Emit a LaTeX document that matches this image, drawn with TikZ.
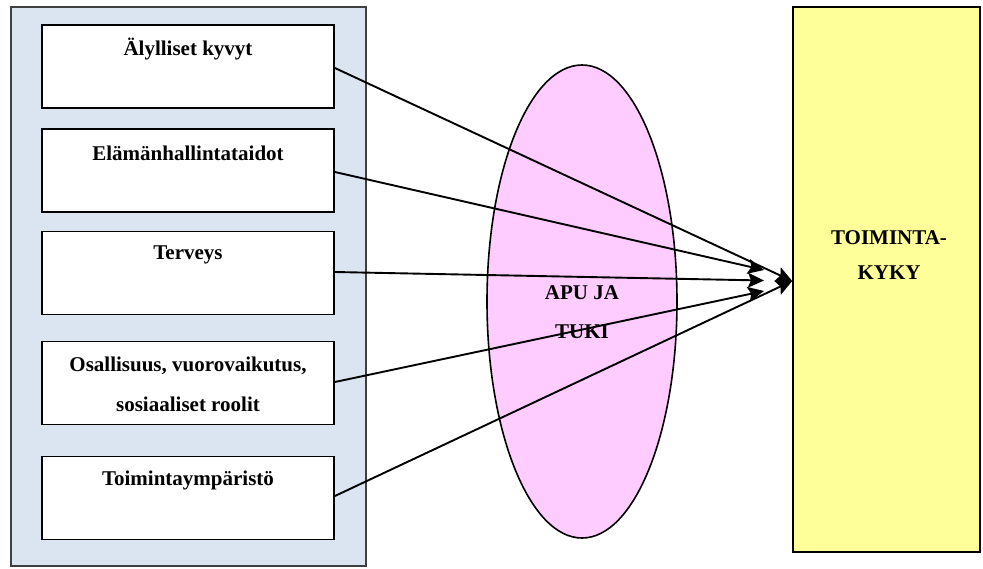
\documentclass[tikz,border=0pt]{standalone}
\usepackage{fontspec}
\setmainfont{Liberation Serif}
\usetikzlibrary{arrows.meta,shapes.geometric}
\definecolor{panelblue}{RGB}{219,229,241}
\definecolor{helppink}{RGB}{255,204,255}
\definecolor{abilityyellow}{RGB}{255,255,153}
\tikzset{
  every node/.style={font=\bfseries\fontsize{21}{40}\selectfont, inner sep=0pt},
  factorbox/.style={draw=black, line width=1.8pt, fill=white, minimum width=292pt, minimum height=83pt},
  link/.style={line width=1.9pt, -{Stealth[length=16pt,width=15pt,inset=3pt]}}
}
\begin{document}
\begin{tikzpicture}[x=1pt,y=-1pt]
\useasboundingbox (0,0) rectangle (983,568);
% factor panel and its five boxes
\draw[fill=panelblue, draw=black!75, line width=1.6pt] (11,7) rectangle (366,566);
\node[factorbox] (b1) at (188,66.5) {};
\node[factorbox] (b2) at (188,170.5) {};
\node[factorbox] (b3) at (188,273) {};
\node[factorbox] (b4) at (188,383) {};
\node[factorbox] (b5) at (188,498) {};
\node (t1) at (188,49) {Älylliset kyvyt};
\node (t2) at (188,153) {Elämänhallintataidot};
\node (t3) at (188,255) {Terveys};
\node[align=center] (t4) at (188,384) {Osallisuus, vuorovaikutus,\\ sosiaaliset roolit};
\node (t5) at (188,480) {Toimintaympäristö};
% support ellipse
\node[draw=black, line width=1.6pt, fill=helppink, ellipse, minimum width=190pt, minimum height=473pt] (help) at (582,301.5) {};
\node[align=center, font=\bfseries\fontsize{21}{39}\selectfont] (helptext) at (582,312.5) {APU JA\\ TUKI};
% functional ability box
\node[draw=black, line width=1.6pt, fill=abilityyellow, minimum width=187pt, minimum height=545pt] (ability) at (886.5,279.5) {};
\node[align=center, font=\bfseries\fontsize{21}{35}\selectfont] (abilitytext) at (889,255.5) {TOIMINTA-\\ KYKY};
% arrow end points
\coordinate (e1) at (ability.west |- 0,281);
\coordinate (e2) at (764,270);
\coordinate (e3) at (764,280.5);
\coordinate (e4) at (764,291);
% connectors
\draw[link] (b1.east |- 0,68) -- (e1);
\draw[link] (b2.east |- 0,172) -- (e2);
\draw[link] (b3.east |- 0,272) -- (e3);
\draw[link] (b4.east |- 0,382) -- (e4);
\draw[link] (b5.east |- 0,496) -- (e1);
\end{tikzpicture}
\end{document}
